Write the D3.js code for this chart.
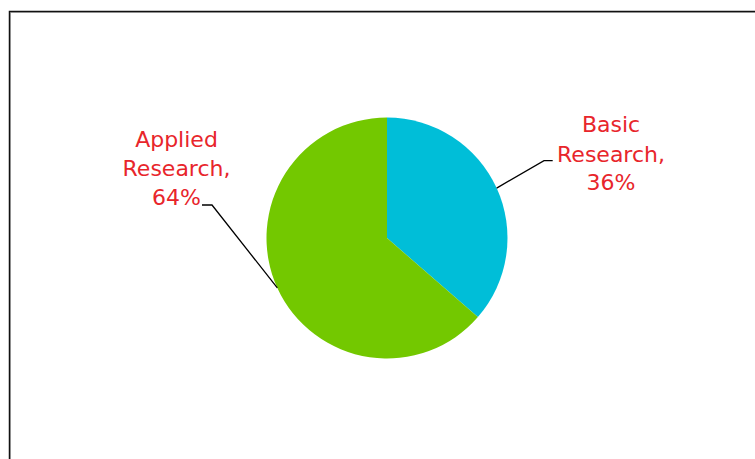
<!DOCTYPE html>
<html><head><meta charset="utf-8">
<script src="https://cdn.jsdelivr.net/npm/d3@7"></script>
<style>html,body{margin:0;padding:0;background:#fff;}svg{display:block;}</style>
</head><body>
<svg id="c" width="755" height="459"></svg>
<script>
const categories = ["Basic Research", "Applied Research"];
const values = [36.4, 63.6];
const colors = ["#00bed8", "#73c800"];

const svg = d3.select("#c");
// frame
svg.append("path").attr("d","M9.5,470 V11.5 H770").attr("fill","none").attr("stroke","#bbb").attr("stroke-width",1).attr("transform","translate(1,1)");
svg.append("path").attr("d","M9.5,470 V11.5 H770").attr("fill","none").attr("stroke","#111").attr("stroke-width",1.5);

const cx = 387, cy = 238, r = 120.5;
const g = svg.append("g").attr("transform",`translate(${cx},${cy})`);
const pie = d3.pie().sort(null).value(d=>d);
const arcs = pie(values);
const arc = d3.arc().innerRadius(0).outerRadius(r);
g.selectAll("path.s").data(arcs).enter().append("path").attr("class","s")
  .attr("d",arc).attr("fill",(d,i)=>colors[i]);

// leader lines & labels
const labelCfg = [
  {elbow:[544,160.7], end:[552.7,160.7], tx:611, ty:[132,161.5,190]},
  {elbow:[212,205], end:[202,205], tx:176.5, ty:[146.5,175.5,205]}
];
arcs.forEach((a,i)=>{
  const ang = (a.startAngle + a.endAngle)/2;
  const px = cx + r*Math.sin(ang), py = cy - r*Math.cos(ang);
  const c = labelCfg[i];
  svg.append("polyline").attr("points",`${px},${py} ${c.elbow[0]},${c.elbow[1]} ${c.end[0]},${c.end[1]}`)
    .attr("fill","none").attr("stroke","#000").attr("stroke-width",1.3);
  const words = categories[i].split(" ");
  const lines = [words[0], words[1]+",", Math.round(values[i])+"%"];
  lines.forEach((t,k)=>{
    svg.append("text").attr("x",c.tx).attr("y",c.ty[k]).attr("text-anchor","middle")
      .attr("font-family","DejaVu Sans, Verdana, sans-serif").attr("font-size",22)
      .attr("fill","#e8252b").text(t);
  });
});
</script>
</body></html>
